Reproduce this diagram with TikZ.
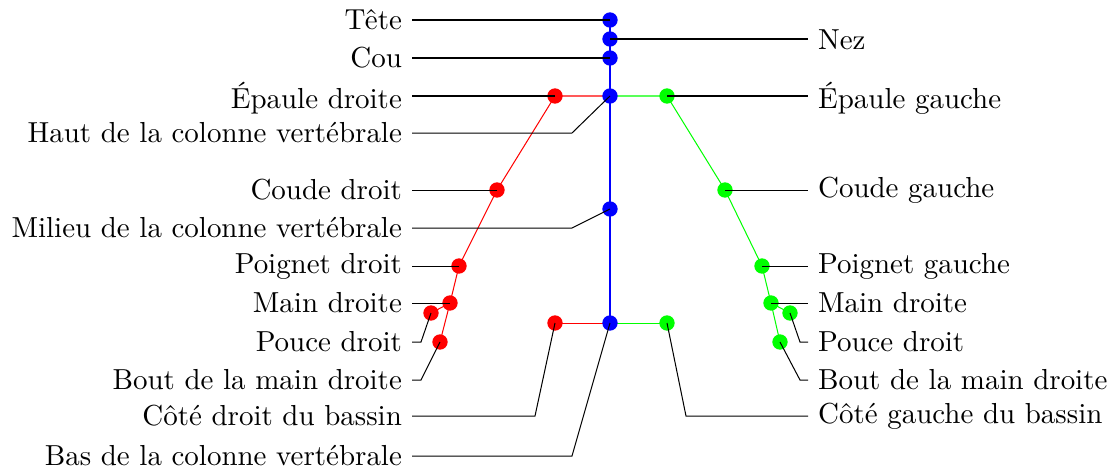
\documentclass[tikz,border=0pt]{standalone}
\begin{document}
\begin{tikzpicture}[x=0.3453pt,y=-0.3453pt,
  jt/.style={circle,inner sep=0pt,minimum size=5.3pt,fill=#1},
  lbl/.style={inner sep=3.3pt},
  lline/.style={black,line width=0.35pt},
  bone/.style={line width=0.35pt,draw=#1}]
\useasboundingbox (0,0) rectangle (1115,470);
\definecolor{rr}{RGB}{255,0,0}
\definecolor{gg}{RGB}{0,255,0}
\definecolor{bb}{RGB}{0,0,255}
% joint coordinates
\coordinate (head) at (610,20);
\coordinate (nose) at (610,39);
\coordinate (neck) at (610,58);
\coordinate (ss) at (610,96);
\coordinate (sm) at (610,209);
\coordinate (sb) at (610,323);
\coordinate (shr) at (555,96);
\coordinate (elr) at (497,190);
\coordinate (wrr) at (459,266);
\coordinate (har) at (450,303);
\coordinate (thr) at (431,313);
\coordinate (htr) at (440,342);
\coordinate (hipr) at (555,323);
\coordinate (shl) at (667,96);
\coordinate (ell) at (725,190);
\coordinate (wrl) at (762,266);
\coordinate (hal) at (771,303);
\coordinate (thl) at (790,313);
\coordinate (htl) at (780,342);
\coordinate (hipl) at (667,323);
% bones
\draw[bone=bb] (head) -- (sb);
\draw[bone=rr] (ss) -- (shr) -- (elr) -- (wrr) -- (har) -- (htr);
\draw[bone=rr] (har) -- (thr);
\draw[bone=rr] (sb) -- (hipr);
\draw[bone=gg] (ss) -- (shl) -- (ell) -- (wrl) -- (hal) -- (htl);
\draw[bone=gg] (hal) -- (thl);
\draw[bone=gg] (sb) -- (hipl);
% joints
\foreach \j in {head,nose,neck,ss,sm,sb} \node[jt=bb] (n\j) at (\j) {};
\foreach \j in {shr,elr,wrr,har,thr,htr,hipr} \node[jt=rr] (n\j) at (\j) {};
\foreach \j in {shl,ell,wrl,hal,thl,htl,hipl} \node[jt=gg] (n\j) at (\j) {};
% left labels
\node[lbl,anchor=east] (lhead) at (412,20) {Tête};
\node[lbl,anchor=east] (lneck) at (412,58) {Cou};
\node[lbl,anchor=east] (lshr) at (412,98) {Épaule droite};
\node[lbl,anchor=east] (lss) at (412,133) {Haut de la colonne vertébrale};
\node[lbl,anchor=east] (lelr) at (412,190) {Coude droit};
\node[lbl,anchor=east] (lsm) at (412,228) {Milieu de la colonne vertébrale};
\node[lbl,anchor=east] (lwrr) at (412,266) {Poignet droit};
\node[lbl,anchor=east] (lhar) at (412,303) {Main droite};
\node[lbl,anchor=east] (lthr) at (412,342) {Pouce droit};
\node[lbl,anchor=east] (lhtr) at (412,380) {Bout de la main droite};
\node[lbl,anchor=east] (lhipr) at (412,416) {Côté droit du bassin};
\node[lbl,anchor=east] (lsb) at (412,456) {Bas de la colonne vertébrale};
% right labels
\node[lbl,anchor=west] (lnose) at (808,40) {Nez};
\node[lbl,anchor=west] (lshl) at (808,98) {Épaule gauche};
\node[lbl,anchor=west] (lell) at (808,190) {Coude gauche};
\node[lbl,anchor=west] (lwrl) at (808,266) {Poignet gauche};
\node[lbl,anchor=west] (lhal) at (808,303) {Main droite};
\node[lbl,anchor=west] (lthl) at (808,342) {Pouce droit};
\node[lbl,anchor=west] (lhtl) at (808,380) {Bout de la main droite};
\node[lbl,anchor=west] (lhipl) at (808,416) {Côté gauche du bassin};
% bend points
\coordinate (bss) at (572,133);
\coordinate (bsm) at (572,228);
\coordinate (bthr) at (421,342);
\coordinate (bhtr) at (421,380);
\coordinate (bhipr) at (535,416);
\coordinate (bsb) at (572,456);
\coordinate (bhipl) at (686,416);
\coordinate (bthl) at (800,342);
\coordinate (bhtl) at (800,380);
% label lines
\draw[lline] (head) -- (lhead.east);
\draw[lline] (neck) -- (lneck.east);
\draw[lline] (shr) -- (shr -| lshr.east);
\draw[lline] (ss) -- (bss) -- (lss.east);
\draw[lline] (elr) -- (lelr.east);
\draw[lline] (sm) -- (bsm) -- (lsm.east);
\draw[lline] (wrr) -- (lwrr.east);
\draw[lline] (har) -- (lhar.east);
\draw[lline] (thr) -- (bthr) -- (lthr.east);
\draw[lline] (htr) -- (bhtr) -- (lhtr.east);
\draw[lline] (hipr) -- (bhipr) -- (lhipr.east);
\draw[lline] (sb) -- (bsb) -- (lsb.east);
\draw[lline] (nose) -- (nose -| lnose.west);
\draw[lline] (shl) -- (shl -| lshl.west);
\draw[lline] (ell) -- (lell.west);
\draw[lline] (wrl) -- (lwrl.west);
\draw[lline] (hal) -- (lhal.west);
\draw[lline] (thl) -- (bthl) -- (lthl.west);
\draw[lline] (htl) -- (bhtl) -- (lhtl.west);
\draw[lline] (hipl) -- (bhipl) -- (lhipl.west);
\end{tikzpicture}
\end{document}
